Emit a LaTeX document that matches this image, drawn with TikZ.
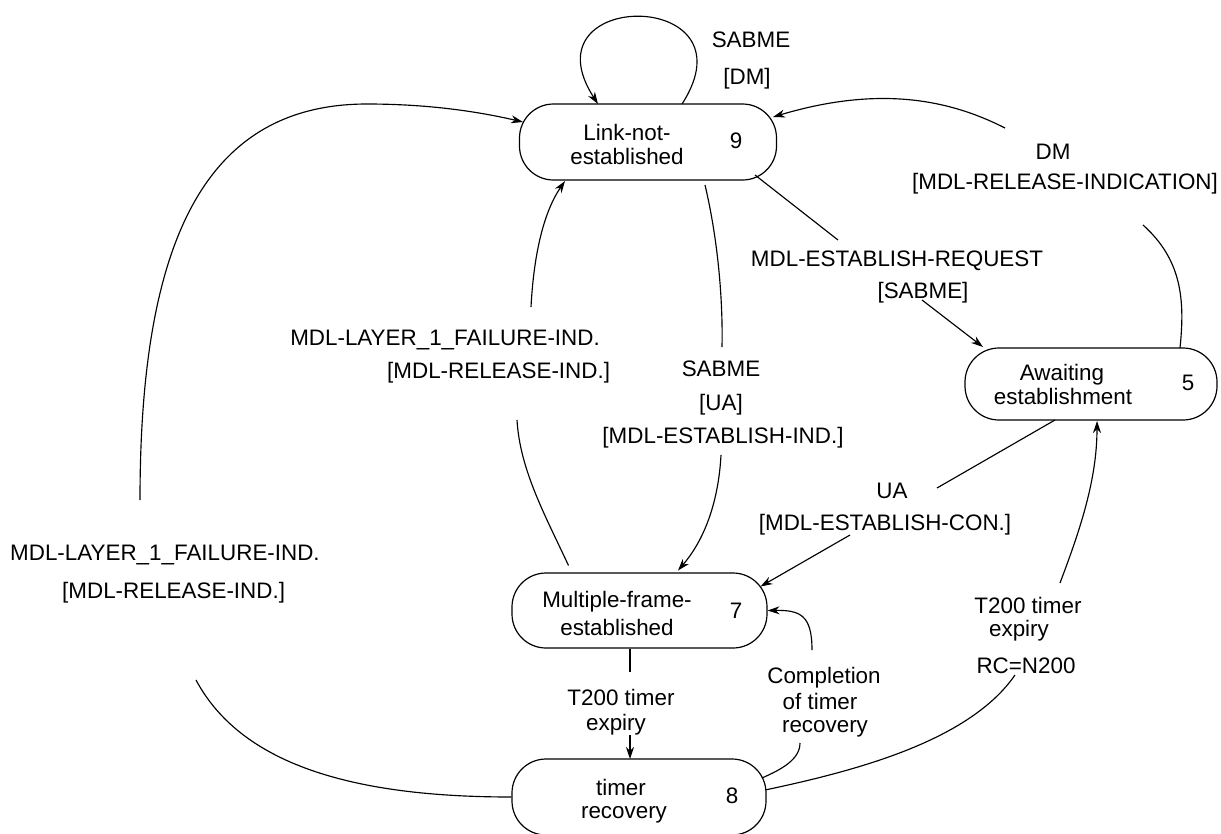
\documentclass[tikz,border=0pt]{standalone}
\usepackage{fontspec}
\setmainfont{Liberation Sans}
\usetikzlibrary{arrows.meta,calc}
\tikzset{
  statebox/.style={draw, line width=1.2pt, rounded corners=34pt, inner sep=0pt},
  txt/.style={anchor=base, inner sep=0pt, font=\fontsize{22.4}{25}\selectfont},
  link/.style={line width=1.15pt},
  arr/.style={link, -{Stealth[length=12pt,width=8pt]}},
}
\begin{document}
\begin{tikzpicture}[x=1pt,y=-1pt]
\useasboundingbox (0,0) rectangle (1221,833);

% states
\node[statebox, minimum width=257pt, minimum height=76pt] (n9) at (648,142) {};
\node[statebox, minimum width=252pt, minimum height=72pt] (n5) at (1091,384) {};
\node[statebox, minimum width=255pt, minimum height=75pt] (n7) at (639.5,610.5) {};
\node[statebox, minimum width=254pt, minimum height=76pt] (n8) at (639,797) {};

\node[txt] (n9a) at (627,140) {Link-not-};
\node[txt] (n9b) at (627,164) {established};
\node[txt] (n9n) at (736,148) {9};
\node[txt] (n5a) at (1062,380) {Awaiting};
\node[txt] (n5b) at (1063,404) {establishment};
\node[txt] (n5n) at (1188,390) {5};
\node[txt] (n7a) at (617,607) {Multiple-frame-};
\node[txt] (n7b) at (617,635) {established};
\node[txt] (n7n) at (736,618) {7};
\node[txt] (n8a) at (621,795) {timer};
\node[txt] (n8b) at (624,818) {recovery};
\node[txt] (n8n) at (732,803) {8};

% transition labels
\node[txt] (l1a) at (751,47) {SABME};
\node[txt] (l1b) at (747,84) {[DM]};
\node[txt] (l2a) at (1053,159) {DM};
\node[txt] (l2b) at (1065,189) {[MDL-RELEASE-INDICATION]};
\node[txt] (l3a) at (897,266) {MDL-ESTABLISH-REQUEST};
\node[txt] (l3b) at (923,298) {[SABME]};
\node[txt, anchor=base east] (l4a) at (600,345) {MDL-LAYER\_1\_FAILURE-IND.};
\node[txt, anchor=base west] (l4b) at (387,378) {[MDL-RELEASE-IND.]};
\node[txt] (l5a) at (721,376) {SABME};
\node[txt] (l5b) at (721,410) {[UA]};
\node[txt] (l5c) at (723,443) {[MDL-ESTABLISH-IND.]};
\node[txt] (l6a) at (892,498) {UA};
\node[txt] (l6b) at (885,530) {[MDL-ESTABLISH-CON.]};
\node[txt] (l7a) at (824,683) {Completion};
\node[txt] (l7b) at (820,709) {of timer};
\node[txt] (l7c) at (825,732) {recovery};
\node[txt] (l8a) at (1028,613) {T200 timer};
\node[txt] (l8b) at (1019,636) {expiry};
\node[txt] (l8c) at (1026,673) {RC=N200};
\node[txt] (l9a) at (621,705) {T200 timer};
\node[txt] (l9b) at (616,730) {expiry};
\node[txt, anchor=base west] (l10a) at (10,560) {MDL-LAYER\_1\_FAILURE-IND.};
\node[txt, anchor=base west] (l10b) at (62,598) {[MDL-RELEASE-IND.]};

% free ends of the interrupted connectors
\coordinate (lA) at (196,680);
\coordinate (lB) at (140,500);
\coordinate (dmA) at (1143,225);
\coordinate (dmB) at (1005,128);
\coordinate (erA) at (838,240);
\coordinate (erB) at (922,300);
\coordinate (uaA) at (937,488);
\coordinate (uaB) at (850,535);
\coordinate (rcA) at (1015,675);
\coordinate (rcB) at (1060,583);
\coordinate (cpA) at (800,743);
\coordinate (cpB) at (812,650);
\coordinate (t2A) at (630,672);
\coordinate (t2B) at (630,735);
\coordinate (ltA) at (517,420);
\coordinate (ltB) at (531,307);
\coordinate (smA) at (722,347);
\coordinate (smB) at (721,455);

% self loop on Link-not-established
\draw[arr] ($(n9.center)+(34,-38)$) .. controls +(75,-116) and +(-75,-116) .. ($(n9.center)+(-50,-38)$);

% timer recovery -> Link-not-established (outer left)
\draw[link] (n8.west) .. controls +(-160,0) and +(45,84) .. (lA);
\draw[arr] (lB) .. controls (140,250) and (200,104) .. (367,104)
  .. controls (430,104) and (480,112) .. ($(n9.center)+(-125,-20)$);

% Awaiting establishment -> Link-not-established
\draw[link] ($(n5.center)+(89,-36)$) .. controls (1185,300) and (1182,260) .. (dmA);
\draw[arr] (dmB) .. controls (950,100) and (880,85) .. ($(n9.center)+(125,-25)$);

% Link-not-established -> Awaiting establishment
\draw[link] ($(n9.center)+(107,33)$) -- (erA);
\draw[arr] (erB) -- ($(n5.center)+(-108,-37)$);

% Awaiting establishment -> Multiple-frame-established
\draw[link] ($(n5.center)+(-36,36)$) -- (uaA);
\draw[arr] (uaB) -- ($(n7.center)+(121,-24)$);

% timer recovery -> Awaiting establishment
\draw[link] ($(n8.center)+(126,-7)$) .. controls (860,770) and (970,740) .. (rcA);
\draw[arr] (rcB) .. controls (1080,530) and (1097,480) .. ($(n5.center)+(6,37)$);

% timer recovery -> Multiple-frame-established
\draw[link] ($(n8.center)+(123,-19)$) .. controls (780,770) and (800,760) .. (cpA);
\draw[arr] (cpB) .. controls (812,615) and (800,610) .. (n7.east);

% Multiple-frame-established -> timer recovery
\draw[link] ($(n7.center)+(-9.5,38)$) -- (t2A);
\draw[arr] (t2B) -- ($(n8.center)+(-9,-38)$);

% Multiple-frame-established -> Link-not-established
\draw[link] ($(n7.center)+(-71,-45)$) .. controls (545,515) and (520,470) .. (ltA);
\draw[arr] (ltB) .. controls (534,250) and (545,210) .. ($(n9.center)+(-83,39)$);

% Link-not-established -> Multiple-frame-established
\draw[link] ($(n9.center)+(57,43)$) .. controls (718,240) and (723,300) .. (smA);
\draw[arr] (smB) .. controls (718,510) and (700,545) .. ($(n7.center)+(38.5,-40)$);
\end{tikzpicture}
\end{document}
